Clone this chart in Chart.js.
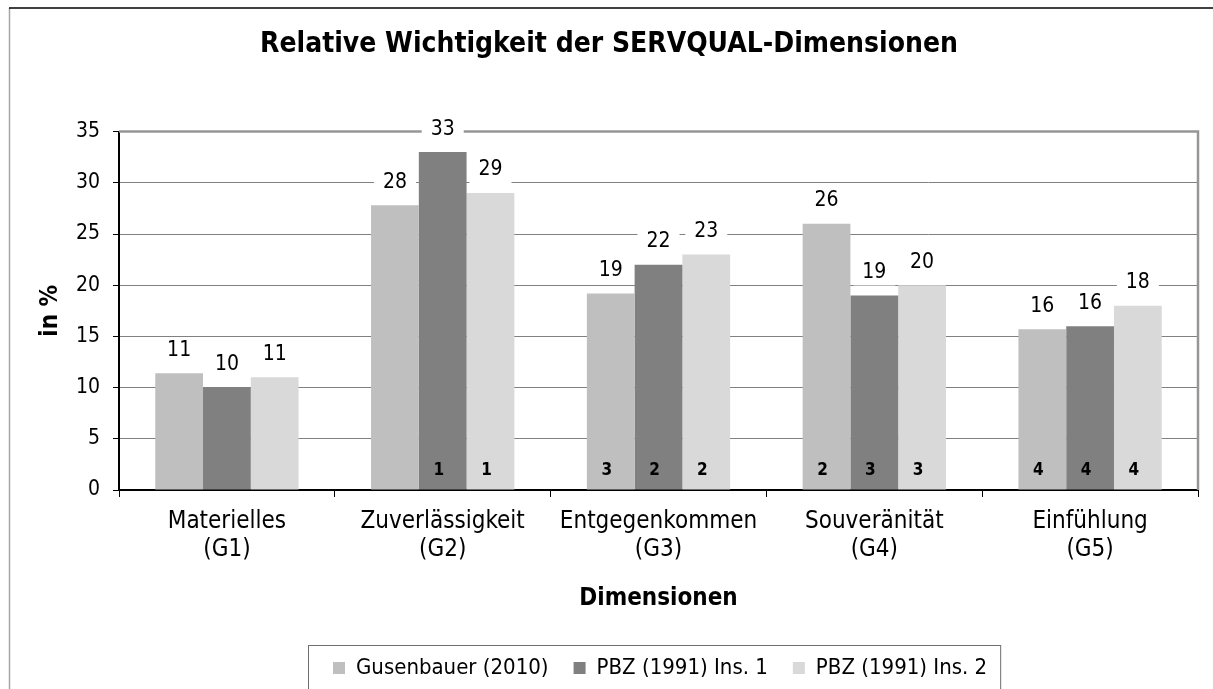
<!DOCTYPE html>
<html>
<head>
<meta charset="utf-8">
<script src="https://cdn.jsdelivr.net/npm/chart.js@4"></script>
<style>
  html, body { margin: 0; padding: 0; background: #fff; }
  #wrap { width: 1213px; height: 689px; position: relative; }
</style>
</head>
<body>
<div id="wrap"><canvas id="chart" width="1213" height="689"></canvas></div>
<script>
const categories = [
    ['Materielles', '(G1)'],
    ['Zuverlässigkeit', '(G2)'],
    ['Entgegenkommen', '(G3)'],
    ['Souveränität', '(G4)'],
    ['Einfühlung', '(G5)']
];
const seriesNames = ['Gusenbauer (2010)', 'PBZ (1991) Ins. 1', 'PBZ (1991) Ins. 2'];
const gusenbauer = [11.4, 27.8, 19.2, 26, 15.7];
const pbzIns1 = [10, 33, 22, 19, 16];
const pbzIns2 = [11, 29, 23, 20, 18];
// rank of the dimension inside each study, null where none is printed
const gusenbauerRank = [null, null, 3, 2, 4];
const pbzIns1Rank = [null, 1, 2, 3, 4];
const pbzIns2Rank = [null, 1, 2, 3, 4];
const yTicks = [0, 5, 10, 15, 20, 25, 30, 35];

const FONT = '"DejaVu Sans Condensed", "DejaVu Sans", sans-serif';
Chart.defaults.font.family = FONT;
Chart.defaults.color = '#000';

// frame, plot border, value labels, rank numbers and legend box
const decorations = {
    id: 'decorations',
    afterLayout(chart) {
        // legend sits left of centre, under the first categories
        chart.legend.left = 308;
        chart.legend.right = 1200;
    },
    beforeDraw(chart) {
        const ctx = chart.ctx;
        ctx.save();
        ctx.fillStyle = '#fff';
        ctx.fillRect(0, 0, chart.width, chart.height);
        ctx.lineWidth = 1.5;
        ctx.strokeStyle = '#a6a6a6';
        ctx.beginPath();
        ctx.moveTo(9.5, chart.height);
        ctx.lineTo(9.5, 8);
        ctx.stroke();
        ctx.strokeStyle = '#000';
        ctx.beginPath();
        ctx.moveTo(9, 8);
        ctx.lineTo(chart.width, 8);
        ctx.stroke();
        ctx.restore();
    },
    beforeDatasetsDraw(chart) {
        const {ctx, chartArea} = chart;
        ctx.save();
        ctx.strokeStyle = '#969696';
        ctx.lineWidth = 2.5;
        ctx.beginPath();
        ctx.moveTo(chartArea.left, chartArea.top);
        ctx.lineTo(chartArea.right, chartArea.top);
        ctx.lineTo(chartArea.right, chartArea.bottom);
        ctx.stroke();
        ctx.restore();
    },
    afterDatasetsDraw(chart) {
        const {ctx, chartArea} = chart;
        ctx.save();
        ctx.textAlign = 'center';
        ctx.textBaseline = 'middle';
        chart.data.datasets.forEach((ds, i) => {
            const meta = chart.getDatasetMeta(i);
            meta.data.forEach((bar, j) => {
                const text = String(Math.round(ds.data[j]));
                ctx.font = '21px ' + FONT;
                const w = ctx.measureText(text).width + 18;
                const y = bar.y - 23;
                ctx.fillStyle = '#fff';
                ctx.fillRect(bar.x - w / 2, y - 13, w, 26);
                ctx.fillStyle = '#000';
                ctx.fillText(text, bar.x, y);
                const rank = ds.ranks[j];
                if (rank !== null) {
                    ctx.font = 'bold 17px ' + FONT;
                    ctx.fillText(String(rank), bar.x - 4, chartArea.bottom - 19);
                }
            });
        });
        ctx.restore();
    },
    afterDraw(chart) {
        const boxes = chart.legend.legendHitBoxes;
        if (!boxes || !boxes.length) return;
        const first = boxes[0];
        const last = boxes[boxes.length - 1];
        const ctx = chart.ctx;
        ctx.save();
        ctx.strokeStyle = '#6e6e6e';
        ctx.lineWidth = 1;
        ctx.strokeRect(first.left - 24.5, 645.5, last.left + last.width - first.left + 38, 60);
        ctx.restore();
    }
};

const chart = new Chart(document.getElementById('chart'), {
    type: 'bar',
    data: {
        labels: categories,
        datasets: [
            { label: seriesNames[0], data: gusenbauer, ranks: gusenbauerRank, backgroundColor: '#bfbfbf' },
            { label: seriesNames[1], data: pbzIns1, ranks: pbzIns1Rank, backgroundColor: '#808080' },
            { label: seriesNames[2], data: pbzIns2, ranks: pbzIns2Rank, backgroundColor: '#d9d9d9' }
        ]
    },
    options: {
        responsive: false,
        animation: false,
        layout: { padding: { left: 20, right: 15, top: 0, bottom: 0 } },
        datasets: {
            bar: { categoryPercentage: 0.664, barPercentage: 1.0, borderWidth: 0 }
        },
        plugins: {
            title: {
                display: true,
                text: 'Relative Wichtigkeit der SERVQUAL-Dimensionen',
                font: { size: 28, weight: 'bold' },
                color: '#000',
                padding: { top: 28, bottom: 70 }
            },
            legend: {
                position: 'bottom',
                align: 'start',
                labels: {
                    boxWidth: 12,
                    boxHeight: 12,
                    padding: 25,
                    font: { size: 22 },
                    color: '#000'
                }
            },
            tooltip: { enabled: false }
        },
        scales: {
            x: {
                afterFit(scale) { scale.height = 142; },
                grid: {
                    offset: true,
                    drawOnChartArea: false,
                    tickLength: 7,
                    tickColor: '#000'
                },
                border: { color: '#000', width: 2 },
                ticks: {
                    padding: 10,
                    font: { size: 24, lineHeight: 1.2 },
                    color: '#000',
                    maxRotation: 0
                },
                title: {
                    display: true,
                    text: 'Dimensionen',
                    font: { size: 24, weight: 'bold' },
                    color: '#000',
                    padding: { top: 0, bottom: 19 }
                }
            },
            y: {
                min: 0,
                max: 35,
                afterFit(scale) { scale.width = 99; },
                afterBuildTicks(scale) { scale.ticks = yTicks.map(v => ({ value: v })); },
                grid: {
                    color: '#808080',
                    lineWidth: 1,
                    tickLength: 6,
                    tickColor: '#000'
                },
                border: { color: '#000', width: 2 },
                ticks: {
                    padding: 13,
                    font: { size: 21 },
                    color: '#000'
                },
                title: {
                    display: true,
                    text: 'in %',
                    font: { size: 24, weight: 'bold' },
                    color: '#000',
                    padding: { top: 16, bottom: 0 }
                }
            }
        }
    },
    plugins: [decorations]
});
</script>
</body>
</html>
